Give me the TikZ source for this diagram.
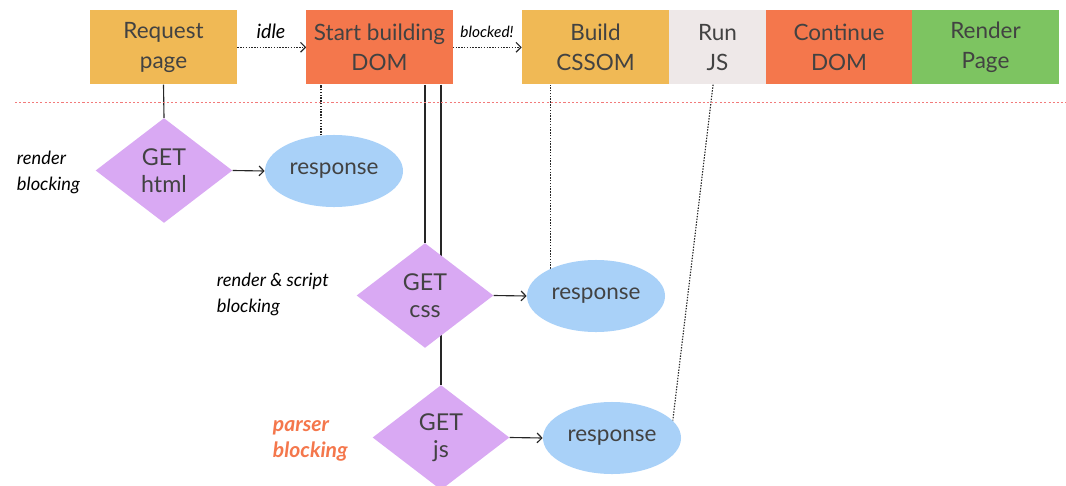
\documentclass[tikz,border=0pt]{standalone}
\usepackage{fontspec}
\setmainfont{Lato}
\usetikzlibrary{shapes.geometric,backgrounds,arrows.meta}

\definecolor{stepgold}{HTML}{F0B955}
\definecolor{stepred}{HTML}{F4774C}
\definecolor{stepgrey}{HTML}{EEE8E8}
\definecolor{stepgreen}{HTML}{7DC461}
\definecolor{getpurple}{HTML}{D9A9F3}
\definecolor{respblue}{HTML}{A9D1F8}
\definecolor{inktext}{HTML}{424242}
\definecolor{sepred}{HTML}{F27A7A}

\begin{document}
\begin{tikzpicture}[x=0.025cm,y=-0.025cm,
  >={Straight Barb[length=3.5pt,width=7pt]},
  stage/.style={minimum height=1.85cm,inner sep=0pt,align=center,text=inktext,font=\fontsize{16}{21}\selectfont},
  fetch/.style={diamond,fill=getpurple,minimum width=3.42cm,minimum height=2.62cm,inner sep=0pt,align=center,text=inktext,font=\fontsize{16.5}{19}\selectfont},
  reply/.style={ellipse,fill=respblue,minimum width=3.45cm,minimum height=1.8cm,inner sep=0pt,text=inktext,font=\fontsize{16}{19}\selectfont},
  note/.style={align=left,anchor=west,font=\fontsize{13}{18.5}\selectfont\itshape},
  wire/.style={line width=0.8pt,black!85},
  dotwire/.style={line width=0.8pt,dash pattern=on 1pt off 1pt,black!85}]
\useasboundingbox (0,0) rectangle (1066,486);

% Pipeline stages
\node[stage,fill=stepgold,minimum width=3.675cm] (req) at (163.5,47.3) {Request\\page};
\node[stage,fill=stepred,minimum width=3.65cm] (dom) at (379.5,47.3) {Start building\\DOM};
\node[stage,fill=stepgold,minimum width=3.675cm] (cssom) at (595.5,47.3) {Build\\CSSOM};
\node[stage,fill=stepgrey,minimum width=2.425cm] (runjs) at (717.5,47.3) {Run\\JS};
\node[stage,fill=stepred,minimum width=3.65cm] (contdom) at (839,47.3) {Continue\\DOM};
\node[stage,fill=stepgreen,minimum width=3.675cm] (render) at (985.5,47.3) {Render\\Page};

% Separator
\draw[sepred,line width=0.8pt,dash pattern=on 1.5pt off 1.5pt] (15,102.6) -- (1066,102.6);

% Requests
\node[fetch] (gethtml) at (164,170.5) {GET\\html};
\node[fetch] (getcss) at (425,295.5) {GET\\css};
\node[fetch] (getjs) at (441,437.5) {GET\\js};

% Responses
\node[reply] (resphtml) at (334,171) {response};
\node[reply] (respcss) at (596,296) {response};
\node[reply] (respjs) at (612,438) {response};

% Labels
\node[font=\fontsize{14}{16}\selectfont\itshape] (lblidle) at (271,31) {idle};
\node[font=\fontsize{11}{13}\selectfont\itshape] (lblblocked) at (487,32) {blocked!};
\node[note] (lblhtml) at (12,172) {render\\blocking};
\node[note] (lblcss) at (212,294) {render \& script\\blocking};
\node[note,text=stepred,font=\fontsize{15}{18}\selectfont\bfseries\itshape] (lbljs) at (268,441) {parser\\blocking};

% Connectors
\begin{pgfonlayer}{background}
\draw[dotwire,->] (req.east) -- (dom.west);
\draw[dotwire,->] (dom.east) -- (cssom.west);
\draw[wire] (req.south) -- (gethtml.north);
\draw[wire,->] (gethtml.east) -- (resphtml.west);
\draw[dotwire] (resphtml.110) -- (resphtml.110 |- dom.south);
\draw[wire] (getcss.north |- dom.south) -- (getcss.north);
\draw[wire] (getjs.north |- dom.south) -- (getjs.north);
\draw[wire,->] (getcss.east) -- (respcss.west);
\draw[dotwire] (respcss.149) -- (respcss.149 |- cssom.south);
\draw[wire,->] (getjs.east) -- (respjs.west);
\draw[dotwire] ([xshift=-0.11cm]runjs.south) -- (respjs.16);
\end{pgfonlayer}

\end{tikzpicture}
\end{document}
